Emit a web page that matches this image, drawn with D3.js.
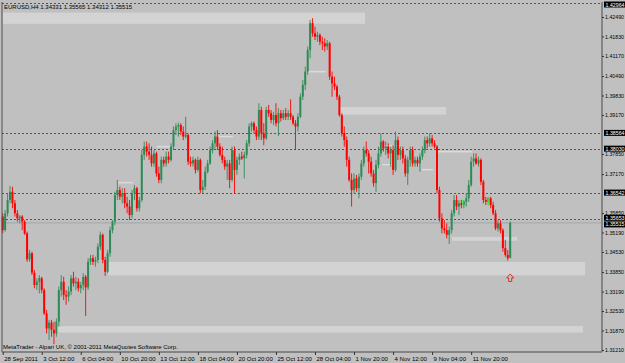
<!DOCTYPE html>
<html>
<head>
<meta charset="utf-8">
<script src="https://cdn.jsdelivr.net/npm/d3@7"></script>
<style>
  body { margin: 0; background: #c0c0c0; }
  text { font-family: "Liberation Sans", Arial, sans-serif; }
</style>
</head>
<body>
<svg id="chart" width="625" height="363"></svg>
<script>
// EURUSD H4 candles, 28 Sep 2011 20:00 onwards (one entry per bar)
const opens = [
  1.3573,1.3527,1.3584,1.3629,1.3657,1.3618,1.3584,1.3567,1.3573,1.3556,
  1.3516,1.3428,1.3449,1.3383,1.3341,1.3352,1.3364,1.3324,1.3245,1.3194,
  1.3214,1.3189,1.3177,1.3217,1.3324,1.3352,1.3307,1.3302,1.3319,1.3364,
  1.3347,1.3352,1.3330,1.3341,1.3369,1.3333,1.3420,1.3432,1.3420,1.3426,
  1.3471,1.3511,1.3426,1.3386,1.3449,1.3527,1.3556,1.3646,1.3663,1.3640,
  1.3652,1.3618,1.3607,1.3578,1.3652,1.3669,1.3601,1.3629,1.3782,1.3810,
  1.3793,1.3782,1.3753,1.3787,1.3719,1.3697,1.3765,1.3753,1.3776,1.3765,
  1.3810,1.3866,1.3878,1.3883,1.3861,1.3844,1.3849,1.3759,1.3753,1.3765,
  1.3731,1.3765,1.3663,1.3674,1.3725,1.3753,1.3798,1.3821,1.3844,1.3810,
  1.3782,1.3765,1.3742,1.3753,1.3697,1.3798,1.3731,1.3765,1.3776,1.3770,
  1.3782,1.3821,1.3878,1.3889,1.3866,1.3844,1.3934,1.3855,1.3838,1.3934,
  1.3923,1.3900,1.3917,1.3889,1.3923,1.3906,1.3923,1.3911,1.3923,1.3911,
  1.3889,1.3878,1.3911,1.3979,1.4019,1.4064,1.4137,1.4228,1.4194,1.4182,
  1.4188,1.4165,1.4160,1.4149,1.4160,1.4047,1.4024,1.4013,1.3979,1.3917,
  1.3855,1.3832,1.3765,1.3697,1.3663,1.3702,1.3669,1.3708,1.3753,1.3798,
  1.3787,1.3759,1.3719,1.3686,1.3748,1.3787,1.3827,1.3804,1.3810,1.3787,
  1.3798,1.3731,1.3832,1.3782,1.3798,1.3770,1.3719,1.3765,1.3798,1.3753,
  1.3765,1.3753,1.3776,1.3798,1.3832,1.3821,1.3838,1.3821,1.3810,1.3663,
  1.3567,1.3533,1.3527,1.3511,1.3527,1.3584,1.3629,1.3607,1.3618,1.3612,
  1.3623,1.3635,1.3680,1.3759,1.3770,1.3753,1.3765,1.3691,1.3629,1.3623,
  1.3635,1.3612,1.3584,1.3533,1.3550,1.3527,1.3466,1.3443,1.34331
];
const highs = [
  1.3584,1.3595,1.3652,1.3677,1.3674,1.3629,1.3595,1.3578,1.3578,1.3561,
  1.3522,1.3460,1.3454,1.3392,1.3364,1.3375,1.3369,1.3330,1.3257,1.3223,
  1.3223,1.3217,1.3228,1.3336,1.3375,1.3369,1.3324,1.3336,1.3375,1.3386,
  1.3369,1.3364,1.3352,1.3381,1.3375,1.3432,1.3443,1.3443,1.3437,1.3482,
  1.3522,1.3516,1.3437,1.3460,1.3539,1.3561,1.3657,1.3697,1.3674,1.3669,
  1.3669,1.3640,1.3629,1.3663,1.3680,1.3674,1.3640,1.3798,1.3827,1.3827,
  1.3821,1.3810,1.3798,1.3793,1.3742,1.3776,1.3776,1.3793,1.3793,1.3821,
  1.3878,1.3889,1.3891,1.3889,1.3878,1.3911,1.3855,1.3776,1.3776,1.3770,
  1.3776,1.3770,1.3697,1.3742,1.3765,1.3810,1.3832,1.3861,1.3866,1.3821,
  1.3810,1.3776,1.3765,1.3765,1.3810,1.3810,1.3776,1.3787,1.3793,1.3793,
  1.3832,1.3889,1.3895,1.3895,1.3878,1.3957,1.3945,1.3889,1.3945,1.3951,
  1.3934,1.3928,1.3957,1.3940,1.3934,1.3934,1.3940,1.3934,1.3970,1.3917,
  1.3900,1.3923,1.3990,1.4036,1.4081,1.4149,1.4239,1.4245,1.4216,1.4199,
  1.4194,1.4182,1.4177,1.4171,1.4165,1.4064,1.4047,1.4019,1.3985,1.3923,
  1.3878,1.3844,1.3776,1.3719,1.3719,1.3714,1.3719,1.3765,1.3810,1.3827,
  1.3798,1.3776,1.3731,1.3765,1.3810,1.3855,1.3832,1.3827,1.3821,1.3810,
  1.3815,1.3861,1.3844,1.3810,1.3810,1.3782,1.3776,1.3810,1.3810,1.3776,
  1.3776,1.3787,1.3810,1.3844,1.3844,1.3855,1.3849,1.3832,1.3815,1.3674,
  1.3584,1.3561,1.3550,1.3539,1.3595,1.3646,1.3646,1.3629,1.3629,1.3629,
  1.3652,1.3697,1.3776,1.3787,1.3787,1.3776,1.3770,1.3697,1.3640,1.3640,
  1.3640,1.3623,1.3595,1.3561,1.3561,1.3533,1.3494,1.3460,1.35565
];
const lows = [
  1.3516,1.3522,1.3573,1.3618,1.3601,1.3573,1.3556,1.3550,1.3527,1.3511,
  1.3420,1.3420,1.3375,1.3330,1.3324,1.3313,1.3313,1.3240,1.3177,1.3155,
  1.3166,1.3141,1.3166,1.3200,1.3302,1.3290,1.3274,1.3285,1.3307,1.3336,
  1.3324,1.3319,1.3313,1.3324,1.3236,1.3324,1.3409,1.3409,1.3403,1.3415,
  1.3460,1.3415,1.3372,1.3381,1.3437,1.3516,1.3544,1.3629,1.3629,1.3618,
  1.3601,1.3584,1.3561,1.3567,1.3629,1.3590,1.3590,1.3623,1.3765,1.3776,
  1.3765,1.3742,1.3742,1.3708,1.3686,1.3686,1.3742,1.3742,1.3753,1.3759,
  1.3798,1.3849,1.3844,1.3849,1.3832,1.3838,1.3748,1.3742,1.3742,1.3719,
  1.3725,1.3652,1.3652,1.3663,1.3719,1.3748,1.3787,1.3804,1.3798,1.3776,
  1.3753,1.3731,1.3697,1.3669,1.3691,1.3652,1.3714,1.3748,1.3765,1.3702,
  1.3770,1.3810,1.3861,1.3855,1.3832,1.3832,1.3832,1.3815,1.3832,1.3911,
  1.3889,1.3883,1.3878,1.3846,1.3895,1.3900,1.3900,1.3900,1.3900,1.3883,
  1.3798,1.3861,1.3906,1.3968,1.4002,1.4053,1.4109,1.4182,1.4171,1.4165,
  1.4154,1.4137,1.4132,1.4137,1.4036,1.3979,1.4002,1.3968,1.3911,1.3844,
  1.3810,1.3742,1.3691,1.3607,1.3652,1.3657,1.3635,1.3697,1.3742,1.3776,
  1.3719,1.3708,1.3674,1.3657,1.3736,1.3776,1.3793,1.3782,1.3770,1.3742,
  1.3714,1.3725,1.3765,1.3765,1.3753,1.3708,1.3680,1.3742,1.3742,1.3742,
  1.3742,1.3725,1.3765,1.3787,1.3804,1.3810,1.3810,1.3804,1.3652,1.3556,
  1.3516,1.3516,1.3499,1.3480,1.3516,1.3573,1.3595,1.3578,1.3601,1.3601,
  1.3607,1.3623,1.3674,1.3742,1.3748,1.3742,1.3680,1.3618,1.3612,1.3612,
  1.3601,1.3578,1.3527,1.3522,1.3516,1.3454,1.3437,1.3424,1.34312
];
const closes = [
  1.3527,1.3584,1.3629,1.3657,1.3618,1.3584,1.3567,1.3573,1.3556,1.3516,
  1.3428,1.3449,1.3383,1.3341,1.3352,1.3364,1.3324,1.3245,1.3194,1.3214,
  1.3189,1.3177,1.3217,1.3324,1.3352,1.3307,1.3302,1.3319,1.3364,1.3347,
  1.3352,1.3330,1.3341,1.3369,1.3333,1.3420,1.3432,1.3420,1.3426,1.3471,
  1.3511,1.3426,1.3386,1.3449,1.3527,1.3556,1.3646,1.3663,1.3640,1.3652,
  1.3618,1.3607,1.3578,1.3652,1.3669,1.3601,1.3629,1.3782,1.3810,1.3793,
  1.3782,1.3753,1.3787,1.3719,1.3697,1.3765,1.3753,1.3776,1.3765,1.3810,
  1.3866,1.3878,1.3883,1.3861,1.3844,1.3849,1.3759,1.3753,1.3765,1.3731,
  1.3765,1.3663,1.3674,1.3725,1.3753,1.3798,1.3821,1.3844,1.3810,1.3782,
  1.3765,1.3742,1.3753,1.3697,1.3798,1.3731,1.3765,1.3776,1.3770,1.3782,
  1.3821,1.3878,1.3889,1.3866,1.3844,1.3934,1.3855,1.3838,1.3934,1.3923,
  1.3900,1.3917,1.3889,1.3923,1.3906,1.3923,1.3911,1.3923,1.3911,1.3889,
  1.3878,1.3911,1.3979,1.4019,1.4064,1.4137,1.4228,1.4194,1.4182,1.4188,
  1.4165,1.4160,1.4149,1.4160,1.4047,1.4024,1.4013,1.3979,1.3917,1.3855,
  1.3832,1.3765,1.3697,1.3663,1.3702,1.3669,1.3708,1.3753,1.3798,1.3787,
  1.3759,1.3719,1.3686,1.3748,1.3787,1.3827,1.3804,1.3810,1.3787,1.3798,
  1.3731,1.3832,1.3782,1.3798,1.3770,1.3719,1.3765,1.3798,1.3753,1.3765,
  1.3753,1.3776,1.3798,1.3832,1.3821,1.3838,1.3821,1.3810,1.3663,1.3567,
  1.3533,1.3527,1.3511,1.3527,1.3584,1.3629,1.3607,1.3618,1.3612,1.3623,
  1.3635,1.3680,1.3759,1.3770,1.3753,1.3765,1.3691,1.3629,1.3623,1.3635,
  1.3612,1.3584,1.3533,1.3550,1.3527,1.3466,1.3443,1.3432,1.35515
];

// time axis: a label every 16 bars
const timeTicks = [0, 16, 32, 48, 64, 80, 96, 112, 128, 144, 160, 176, 192];
const timeLabels = ['28 Sep 2011', '3 Oct 12:00', '6 Oct 04:00', '10 Oct 20:00', '13 Oct 12:00',
  '18 Oct 04:00', '20 Oct 20:00', '25 Oct 12:00', '28 Oct 04:00', '1 Nov 20:00',
  '4 Nov 12:00', '9 Nov 04:00', '11 Nov 20:00'];

// price axis
const priceTicks = [1.42490, 1.41830, 1.41170, 1.40490, 1.39830, 1.39170, 1.37850, 1.37170,
  1.35850, 1.35190, 1.34530, 1.33850, 1.33190, 1.32530, 1.31870, 1.31210];
// dashed horizontal levels (the first one sits on the top edge)
const levelPrices = [1.42964, 1.38564, 1.38030, 1.36542, 1.35653];
const bidPrice = 1.35515;

// rectangles drawn on the chart
const zoneFrom = [-1, 138.2, 43.2, 22.3, 184.1];
const zoneTo = [148.5, 181.7, 238.7, 237.8, 210.8];
const zoneTop = [1.4264, 1.3944, 1.3419, 1.3202, 1.3504];
const zoneBottom = [1.4226, 1.3918, 1.3374, 1.3180, 1.3491];
// thin marker lines
const markFrom = [125.2, 46.8, 63.2, 88.3, 155.5, 155.5, 171.8, 178];
const markTo = [132.5, 53.4, 68.6, 94.4, 162.8, 160, 176.4, 192.3];
const markPrice = [1.4063, 1.3687, 1.3809, 1.3843, 1.3812, 1.3748, 1.3731, 1.3792];
// small lime signal ticks: bar, top price, bottom price
const signalBar = [188.6, 199];
const signalTop = [1.3629, 1.3639];
const signalBottom = [1.3609, 1.3609];

const arrowBar = 208, arrowPrice = 1.3365;

const title = 'EURUSD,H4  1.34331 1.35565 1.34312 1.35515';
const footer = 'MetaTrader - Alpari UK, \u00a9 2001-2011 MetaQuotes Software Corp.';

const svg = d3.select('#chart');
const plot = {left: 2, right: 602, top: 2, bottom: 352};

const x = d3.scaleLinear().domain([0, 208]).range([2.7, 510.2]);
const y = d3.scaleLinear().domain([1.31142, 1.42998]).range([plot.bottom, plot.top]);
const fmt = d3.format('.5f');

svg.append('rect').attr('width', 625).attr('height', 363).attr('fill', '#c0c0c0');

// zones
svg.append('g').selectAll('rect').data(zoneFrom).join('rect')
  .attr('x', (d) => Math.max(plot.left + 1, x(d)))
  .attr('width', (d, i) => x(zoneTo[i]) - Math.max(plot.left + 1, x(d)))
  .attr('y', (d, i) => y(zoneTop[i]))
  .attr('height', (d, i) => y(zoneBottom[i]) - y(zoneTop[i]))
  .attr('fill', '#d3d3d3');

svg.append('g').selectAll('rect').data(markFrom).join('rect')
  .attr('x', (d) => x(d))
  .attr('width', (d, i) => x(markTo[i]) - x(d))
  .attr('y', (d, i) => y(markPrice[i]) - 1)
  .attr('height', 1.5)
  .attr('fill', '#dadada');

// horizontal levels
svg.append('g').selectAll('line').data(levelPrices).join('line')
  .attr('x1', plot.left).attr('x2', plot.right)
  .attr('y1', (d) => Math.round(y(d)) + 0.5).attr('y2', (d) => Math.round(y(d)) + 0.5)
  .attr('stroke', '#555').attr('stroke-dasharray', '2,2');
svg.append('line')
  .attr('x1', plot.left).attr('x2', plot.right)
  .attr('y1', y(bidPrice)).attr('y2', y(bidPrice))
  .attr('stroke', '#a4abb0').attr('stroke-width', 1.2);

// candles
const idx = d3.range(closes.length);
const color = (i) => closes[i] >= opens[i] ? '#2e8b57' : '#ff0000';
const candles = svg.append('g');
candles.selectAll('line').data(idx).join('line')
  .attr('x1', (i) => x(i)).attr('x2', (i) => x(i))
  .attr('y1', (i) => y(highs[i])).attr('y2', (i) => y(lows[i]))
  .attr('stroke', color).attr('stroke-width', 0.9);
candles.selectAll('rect').data(idx).join('rect')
  .attr('x', (i) => x(i) - 1)
  .attr('width', 2)
  .attr('y', (i) => y(Math.max(opens[i], closes[i])))
  .attr('height', (i) => Math.max(1, Math.abs(y(opens[i]) - y(closes[i]))))
  .attr('fill', color);

// lime signal ticks
svg.append('g').selectAll('line').data(signalBar).join('line')
  .attr('x1', (d) => x(d)).attr('x2', (d) => x(d))
  .attr('y1', (d, i) => y(signalTop[i])).attr('y2', (d, i) => y(signalBottom[i]))
  .attr('stroke', '#33ff33').attr('stroke-width', 1);

// arrow below last bar
const ax = x(arrowBar), ay = y(arrowPrice);
svg.append('path')
  .attr('d', `M${ax},${ay - 4} L${ax + 3.5},${ay} L${ax + 1.5},${ay} L${ax + 1.5},${ay + 3.5} L${ax - 1.5},${ay + 3.5} L${ax - 1.5},${ay} L${ax - 3.5},${ay} Z`)
  .attr('fill', 'none').attr('stroke', '#e0302a').attr('stroke-width', 1);

// frame
svg.append('line').attr('x1', plot.left).attr('x2', plot.left)
  .attr('y1', plot.top).attr('y2', plot.bottom).attr('stroke', '#505050');

// axes
const yAxis = svg.append('g')
  .attr('transform', `translate(${plot.right},0)`)
  .call(d3.axisRight(y).tickValues(priceTicks).tickFormat(fmt).tickSize(2).tickPadding(1));
yAxis.select('.domain').attr('stroke', '#707070').attr('stroke-width', 1.5)
  .attr('d', `M0,${plot.top}V${plot.bottom}`);
yAxis.selectAll('text').attr('font-size', 5.5).attr('fill', '#000')
  .attr('textLength', 19).attr('lengthAdjust', 'spacingAndGlyphs');
yAxis.selectAll('line').attr('stroke', '#333');

const xAxis = svg.append('g')
  .attr('transform', `translate(0,${plot.bottom})`)
  .call(d3.axisBottom(x).tickValues(timeTicks).tickFormat((d, i) => timeLabels[i]).tickSize(3).tickPadding(2));
xAxis.select('.domain').attr('stroke', '#707070').attr('stroke-width', 1.5)
  .attr('d', `M${plot.left},0H${plot.right}`);
xAxis.selectAll('text').attr('font-size', 6).attr('fill', '#000')
  .attr('text-anchor', 'start').attr('dx', 1);
xAxis.selectAll('line').attr('stroke', '#333');

// highlighted price labels (the last two sit close together, so they are spread a little)
const tags = levelPrices.concat([bidPrice]);
const tagShift = [1.5, 0, 0, 0, -1, 1.5];
const tagG = svg.append('g').selectAll('g').data(tags).join('g')
  .attr('transform', (d, i) => `translate(${plot.right + 2},${y(d) + tagShift[i]})`);
tagG.append('rect').attr('x', 0).attr('y', -3).attr('width', 23).attr('height', 6).attr('fill', '#000');
tagG.append('text').attr('x', 1.5).attr('y', 2).attr('font-size', 5.5).attr('fill', '#fff')
  .attr('textLength', 19).attr('lengthAdjust', 'spacingAndGlyphs')
  .text((d) => fmt(d));

// texts
svg.append('text').attr('x', 4).attr('y', 9).attr('font-size', 6).attr('fill', '#000').text(title);
svg.append('text').attr('x', 3).attr('y', 349).attr('font-size', 6).attr('fill', '#000').text(footer);
</script>
</body>
</html>
